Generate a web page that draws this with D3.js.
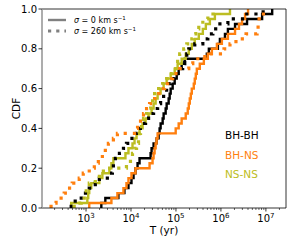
<!DOCTYPE html>
<html><head><meta charset="utf-8">
<script src="https://cdn.jsdelivr.net/npm/d3@7"></script>
<style>body{margin:0;background:#fff}svg{display:block}text{font-family:"DejaVu Sans",sans-serif}</style>
</head><body><svg id="c" width="294" height="243"></svg>
<script>
// Merger times T (yr), sorted; CDF step = 1/N
const bhbhSigma0 = [2190,2690,5250,7150,8790,10260,11400,12600,14000,15500,27300,28700,31800,37100,41200,43300,45600,50600,53200,59000,62100,68800,72500,76300,84500,93700,103900,115000,134000,157000,486000,539000,856000,949000,1.23e6,1.43e6,2.06e6,3.81e6,8.24e6,1.38e7];
const bhnsSigma0 = [1180,3670,4990,6800,7930,8790,10260,12600,25900,30200,31800,33500,35300,37100,39100,98700,115000,134000,165000,183000,193000,203000,214000,225000,249000,262000,276000,291000,339000,417000,512000,629000,813000,1.05e6,1.43e6,2.06e6,2.52e6,2.95e6,3.44e6,4.01e6];
const nsnsSigma0 = [468,1070,1120,1180,1310,1980,2310,3310,3670,4060,7530,8790,10800,12000,13300,15500,18100,21100,24600,28700,31800,35300,39100,45600,53200,62100,76300,93700,109000,134000,165000,193000,225000,262000,322000,396000,462000,568000,734000,1.59e6];
const bhbhSigma260 = [468,575,868,1180,1610,1980,2980,3860,4060,4500,5530,6800,7930,9250,12000,14000,18100,21100,24600,31800,39100,45600,53200,62100,68800,76300,89000,121000,141000,157000,174000,193000,262000,396000,512000,662000,856000,1.43e6,3.44e6,8.68e6];
const bhnsSigma260 = [167,216,327,381,493,706,868,1180,1530,1880,2310,2690,3140,4060,4990,12000,14000,16300,19000,22200,25900,33500,41200,48000,56000,65400,84500,121000,193000,237000,439000,1.17e6,1.59e6,2.16e6,3.62e6,6.37e6,6.71e6,7.06e6,7.83e6,1.01e7];
const nsnsSigma260 = [546,783,913,1010,1180,1610,1980,2430,7930,9740,10800,12000,13300,14700,15500,16300,17200,19000,22200,24600,27300,30200,33500,41200,50600,62100,72500,84500,98700,109000,121000,149000,174000,203000,237000,276000,322000,396000,512000,734000];

const populations = ["BH-BH","BH-NS","NS-NS"];
const popColors = ["#000000","#ff7f0e","#bcbd22"];
const sigmaLabels = ["0","260"];
const yTicks = [0,0.2,0.4,0.6,0.8,1.0];
const xTickExps = [3,4,5,6,7];

const series = [
  {pop:0, sigma:0, values:bhbhSigma0},
  {pop:1, sigma:0, values:bhnsSigma0},
  {pop:2, sigma:0, values:nsnsSigma0},
  {pop:0, sigma:1, values:bhbhSigma260},
  {pop:1, sigma:1, values:bhnsSigma260},
  {pop:2, sigma:1, values:nsnsSigma260}
];

const L=42, R=286, T=9, B=208;
const svg = d3.select("#c");
const x = d3.scaleLog().domain([105, 2.8e7]).range([L, R]);
const y = d3.scaleLinear().domain([0, 1]).range([B, T]);

// lines
const line = d3.line().x(d=>x(d[0])).y(d=>y(d[1])).curve(d3.curveStepAfter);
series.forEach(s => {
  const N = s.values.length;
  const pts = [[s.values[0], 0]].concat(s.values.map((t,i)=>[t,(i+1)/N]));
  svg.append("path").attr("d", line(pts)).attr("fill","none")
    .attr("stroke", popColors[s.pop])
    .attr("stroke-width", s.sigma===0 ? 2.4 : 3.2)
    .attr("stroke-dasharray", s.sigma===0 ? null : "3.2,6");
});

// spines
svg.append("line").attr("x1",L).attr("x2",R).attr("y1",T).attr("y2",T).attr("stroke","#000").attr("stroke-width",0.8);
svg.append("line").attr("x1",R).attr("x2",R).attr("y1",T).attr("y2",B).attr("stroke","#000").attr("stroke-width",0.8);
svg.append("line").attr("x1",L).attr("x2",R).attr("y1",B).attr("y2",B).attr("stroke","#000").attr("stroke-width",0.8);
svg.append("line").attr("x1",L).attr("x2",L).attr("y1",T).attr("y2",B).attr("stroke","#999").attr("stroke-width",1.6);

// y axis
yTicks.forEach(v => {
  svg.append("line").attr("x1",L-3.5).attr("x2",L).attr("y1",y(v)).attr("y2",y(v)).attr("stroke","#000").attr("stroke-width",0.8);
  svg.append("text").attr("x",L-5).attr("y",y(v)+3.6).attr("text-anchor","end").attr("font-size",10).text(d3.format(".1f")(v));
});

// x axis major ticks
xTickExps.forEach(e => {
  const xv = x(Math.pow(10,e));
  svg.append("line").attr("x1",xv).attr("x2",xv).attr("y1",B).attr("y2",B+3.5).attr("stroke","#000").attr("stroke-width",0.8);
  const t = svg.append("text").attr("x",xv).attr("y",B+13.5).attr("text-anchor","middle").attr("font-size",10);
  t.append("tspan").text("10");
  t.append("tspan").attr("dy",-4).attr("font-size",7).text(String(e));
});
// minor ticks
for (let e=2; e<=7; e++) for (let k=2; k<=9; k++) {
  const v = k*Math.pow(10,e);
  if (v < x.domain()[0] || v > x.domain()[1]) continue;
  svg.append("line").attr("x1",x(v)).attr("x2",x(v)).attr("y1",B).attr("y2",B+2).attr("stroke","#000").attr("stroke-width",0.6);
}

// axis labels
svg.append("text").attr("x",(L+R)/2).attr("y",234).attr("text-anchor","middle").attr("font-size",10.5).text("T (yr)");
svg.append("text").attr("transform",`translate(20,${(T+B)/2}) rotate(-90)`).attr("text-anchor","middle").attr("font-size",10.5).text("CDF");

// legend
sigmaLabels.forEach((s,i) => {
  const ly = 20 + i*11;
  svg.append("line").attr("x1",48).attr("x2",66).attr("y1",ly).attr("y2",ly)
    .attr("stroke","#808080").attr("stroke-width", i===0 ? 2.4 : 3.2)
    .attr("stroke-dasharray", i===0 ? null : "3.2,5");
  const t = svg.append("text").attr("x",74).attr("y",ly+3).attr("font-size",8).attr("fill","#000");
  t.append("tspan").attr("font-style","italic").text("σ");
  t.append("tspan").text(` = ${s} km s`);
  t.append("tspan").attr("dy",-3).attr("font-size",5.5).text("−1");
});

// population labels
populations.forEach((p,i) => {
  svg.append("text").attr("x",225).attr("y",139 + i*19.5).attr("font-size",10.5).attr("fill",popColors[i]).text(p);
});
</script></body></html>
